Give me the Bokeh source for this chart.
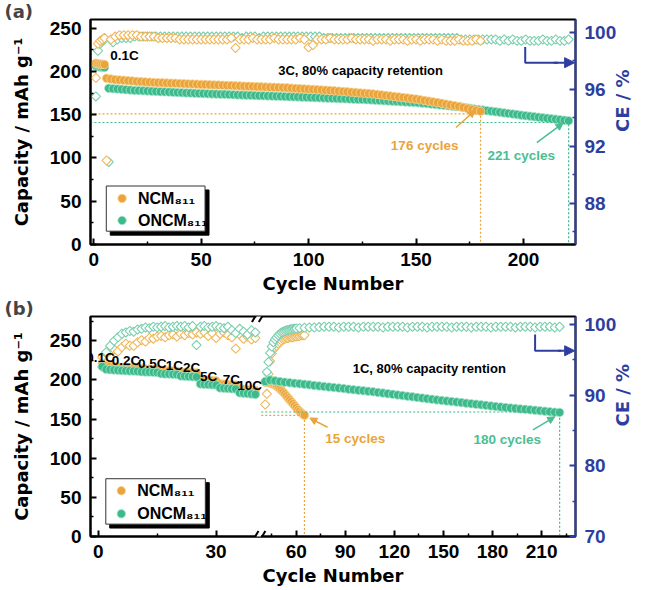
import math
from bokeh.plotting import figure
from bokeh.models import Range1d, LinearAxis, FixedTicker, Arrow, NormalHead, BoxAnnotation
from bokeh.layouts import column
from bokeh.embed import file_html
from bokeh.resources import INLINE
from bokeh.core.properties import value

FONT = "Liberation Sans"
TFONT = "DejaVu Sans"
ORANGE = "#EBA43B"
ORANGE_EDGE = "#F9D797"
ORANGE_DIA = "#F0B75A"
GREEN = "#3DBA8C"
GREEN_EDGE = "#AEE6CF"
GREEN_DIA = "#7ACFAE"
ORANGE_TXT = "#E9A43C"
GREEN_TXT = "#4BBE92"
BLUE = "#2E3E9E"

series_names = ["NCM₈₁₁", "ONCM₈₁₁"]

# ================= Panel (a) data =================
a_form_cycles = [1, 2, 3, 4, 5]
a_ncm_form_cap = [209.5, 208.8, 208.5, 208.3, 208.0]
a_oncm_form_cap = [206.0, 205.3, 205.0, 204.8, 204.5]
a_ncm_form_ce = [96.8, 99.2, 99.4, 99.5, 99.6]
a_oncm_form_ce = [95.5, 98.7, 99.2, 99.4, 99.5]

a_ncm_cycles = list(range(6, 181, 2))
a_ncm_cap = [
    192.0, 191.2, 190.5, 190.1, 189.7, 189.3, 188.9, 188.5, 188.2, 187.9,
    187.6, 187.3, 187.0, 186.8, 186.6, 186.4, 186.2, 186.0, 185.8, 185.6,
    185.4, 185.2, 185.0, 184.8, 184.6, 184.4, 184.2, 184.0, 183.8, 183.6,
    183.4, 183.2, 183.0, 182.8, 182.6, 182.4, 182.2, 182.0, 181.8, 181.6,
    181.4, 181.2, 181.0, 180.7, 180.4, 180.1, 179.8, 179.5, 179.2, 178.9,
    178.6, 178.3, 178.0, 177.6, 177.2, 176.8, 176.4, 176.0, 175.6, 175.2,
    174.8, 174.4, 174.0, 173.4, 172.8, 172.2, 171.6, 171.0, 170.4, 169.8,
    169.2, 168.6, 168.0, 167.2, 166.4, 165.6, 164.8, 164.0, 163.1, 162.2,
    161.3, 160.4, 159.5, 158.4, 157.3, 156.2, 155.1, 154.0]
a_ncm_ce = [
    91.0, 99.5, 99.7, 99.8, 99.8, 99.8, 99.8, 99.8, 99.7, 99.7,
    99.7, 99.7, 99.6, 99.6, 99.6, 99.6, 99.6, 99.5, 99.5, 99.5,
    99.5, 99.5, 99.5, 99.5, 99.5, 99.5, 99.5, 99.5, 99.5, 99.6,
    98.9, 99.5, 99.5, 99.5, 99.6, 99.5, 99.5, 99.5, 99.5, 99.6,
    99.5, 99.5, 99.5, 99.5, 99.5, 99.6, 99.5, 98.95, 99.1, 99.5,
    99.5, 99.5, 99.6, 99.5, 99.5, 99.5, 99.5, 99.6, 99.5, 99.5,
    99.5, 99.5, 99.4, 99.5, 99.5, 99.5, 99.4, 99.5, 99.5, 99.5,
    99.4, 99.5, 99.5, 99.4, 99.5, 99.5, 99.5, 99.4, 99.5, 99.4,
    99.4, 99.4, 99.5, 99.4, 99.4, 99.4, 99.5, 99.4]

a_oncm_cycles = list(range(7, 222, 2))
a_oncm_cap = [
    180.5, 180.1, 179.7, 179.3, 178.9, 178.5, 178.1, 177.9, 177.6, 177.4,
    177.1, 176.9, 176.6, 176.4, 176.2, 175.9, 175.7, 175.5, 175.2, 175.0,
    174.8, 174.6, 174.4, 174.2, 174.0, 173.8, 173.6, 173.5, 173.3, 173.1,
    172.9, 172.7, 172.6, 172.4, 172.2, 172.0, 171.9, 171.7, 171.5, 171.3,
    171.2, 171.0, 170.8, 170.6, 170.5, 170.3, 170.1, 169.9, 169.7, 169.5,
    169.3, 169.1, 168.9, 168.7, 168.5, 168.3, 168.1, 167.9, 167.7, 167.5,
    167.3, 167.1, 166.8, 166.5, 166.2, 165.9, 165.6, 165.3, 165.0, 164.7,
    164.4, 164.1, 163.8, 163.3, 162.8, 162.3, 161.8, 161.3, 160.8, 160.3,
    159.8, 159.3, 158.8, 158.1, 157.4, 156.7, 156.0, 155.3, 154.7, 154.1,
    153.4, 152.8, 152.1, 151.5, 150.8, 150.2, 149.5, 148.9, 148.3, 147.7,
    147.1, 146.5, 145.9, 145.3, 144.8, 144.2, 143.6, 143.0]
a_oncm_ce = [
    90.9, 99.3, 99.5, 99.6, 99.6, 99.6, 99.7, 99.7, 99.7, 99.7,
    99.7, 99.7, 99.7, 99.7, 99.7, 99.7, 99.7, 99.7, 99.7, 99.7,
    99.7, 99.7, 99.7, 99.7, 99.7, 99.7, 99.7, 99.7, 99.7, 99.7,
    99.7, 99.6, 99.7, 99.7, 99.7, 99.6, 99.7, 99.7, 99.7, 99.7,
    99.7, 99.7, 99.7, 99.7, 99.7, 99.7, 99.7, 99.7, 99.7, 99.7,
    99.6, 99.6, 99.6, 99.6, 99.6, 99.6, 99.6, 99.6, 99.6, 99.6,
    99.6, 99.6, 99.6, 99.6, 99.6, 99.6, 99.6, 99.6, 99.6, 99.6,
    99.6, 99.6, 99.6, 99.6, 99.6, 99.6, 99.6, 99.6, 99.6, 99.6,
    99.6, 99.6, 99.5, 99.5, 99.5, 99.5, 99.5, 99.5, 99.5, 99.5,
    99.5, 99.4, 99.5, 99.4, 99.5, 99.4, 99.4, 99.5, 99.4, 99.4,
    99.4, 99.5, 99.4, 99.4, 99.5, 99.4, 99.4, 99.5]

a_retention_cycles = [180, 221]
a_retention_caps = [151, 141]

# ================= Panel (b) data =================
b_rates = ["0.1C", "0.2C", "0.5C", "1C", "2C", "5C", "7C", "10C"]
b_rate_cycles = list(range(1, 41))
b_ncm_rate_cap = [
    220.5, 218.0, 217.5, 217.0, 216.8, 216.0, 215.8, 215.5, 215.3, 215.0,
    214.3, 214.0, 213.8, 213.5, 213.3, 212.2, 212.0, 211.7, 211.5, 211.2,
    210.0, 209.7, 209.5, 209.2, 209.0, 200.5, 200.0, 199.6, 199.2, 198.8,
    195.0, 194.6, 194.2, 193.8, 193.4, 188.5, 188.0, 187.5, 187.0, 186.5]
b_oncm_rate_cap = [
    217.0, 213.5, 213.0, 212.7, 212.4, 211.9, 211.7, 211.5, 211.3, 211.1,
    210.4, 210.2, 210.0, 209.8, 209.6, 208.0, 207.7, 207.5, 207.2, 207.0,
    205.0, 204.7, 204.4, 204.1, 203.8, 194.8, 194.4, 194.1, 193.7, 193.4,
    189.8, 189.4, 189.0, 188.6, 188.3, 183.5, 183.0, 182.5, 182.0, 181.5]
b_ncm_rate_ce = [
    95.4, 95.9, 96.3, 96.5, 96.2, 96.8, 97.3, 97.0, 97.0, 97.5,
    97.8, 97.6, 98.1, 98.0, 98.3, 98.4, 98.2, 98.5, 98.6, 98.3,
    98.7, 98.5, 98.8, 98.6, 98.9, 98.7, 98.9, 98.4, 98.8, 98.1,
    98.7, 98.9, 98.5, 98.2, 96.6, 98.6, 98.0, 98.3, 97.9, 98.1]
b_oncm_rate_ce = [
    94.0, 96.1, 97.0, 97.7, 98.2, 98.7, 98.9, 99.1, 99.0, 99.3,
    99.4, 99.6, 99.5, 99.7, 99.6, 99.7, 99.8, 99.6, 99.7, 99.8,
    99.7, 99.8, 99.6, 99.8, 97.1, 99.7, 99.8, 99.6, 99.7, 99.8,
    99.6, 99.5, 99.7, 99.2, 98.8, 99.4, 99.0, 98.6, 99.2, 98.9]

b_ncm_long_cycles = list(range(41, 66))
b_ncm_long_cap = [
    197.0, 197.0, 196.5, 196.0, 195.5, 194.5, 193.5, 192.0, 190.5, 188.5,
    186.5, 184.5, 182.0, 179.5, 177.0, 174.5, 172.0, 169.5, 167.0, 164.5,
    162.0, 160.0, 158.0, 156.3, 154.8]
b_ncm_long_ce = [
    88.7, 90.2, 93.0, 94.8, 95.9, 96.5, 96.8, 97.0, 97.3, 97.5,
    97.7, 97.9, 98.0, 98.1, 98.1, 98.2, 98.2, 98.2, 98.3, 98.3,
    98.4, 98.4, 98.5, 98.5, 98.5]

b_oncm_long_cycles = list(range(41, 222, 3))
b_oncm_long_cap = [
    198.0, 199.8, 198.8, 197.9, 197.1, 196.4, 195.7, 195.1, 194.4, 193.7,
    193.0, 192.3, 191.6, 190.9, 190.3, 189.6, 188.9, 188.2, 187.5, 186.9,
    186.2, 185.5, 184.8, 184.0, 183.2, 182.4, 181.6, 180.8, 180.0, 179.2,
    178.4, 177.6, 176.8, 176.0, 175.2, 174.5, 173.8, 173.1, 172.4, 171.7,
    171.0, 170.3, 169.6, 168.9, 168.2, 167.5, 166.8, 166.1, 165.4, 164.8,
    164.2, 163.6, 163.0, 162.4, 161.8, 161.2, 160.6, 160.0, 159.4, 158.8,
    158.5]
b_oncm_ce_cycles = list(range(41, 61)) + list(range(62, 222, 3))
b_oncm_long_ce = [
    91.9, 93.3, 94.7, 96.0, 96.9, 97.5, 97.9, 98.2, 98.5, 98.7,
    98.9, 99.0, 99.1, 99.2, 99.25, 99.3, 99.35, 99.4, 99.4, 99.45,
    99.5, 99.55, 99.6, 99.6, 99.65, 99.7,
    99.7, 99.7, 99.6, 99.7, 99.7, 99.7, 99.6, 99.7, 99.7, 99.7,
    99.7, 99.6, 99.7, 99.7, 99.7, 99.7, 99.6, 99.7, 99.7, 99.7,
    99.6, 99.7, 99.7, 99.7, 99.7, 99.6, 99.7, 99.7, 99.7, 99.6,
    99.7, 99.7, 99.7, 99.6, 99.7, 99.7, 99.7, 99.7, 99.6, 99.7,
    99.7, 99.7, 99.6, 99.7, 99.7, 99.7, 99.6, 99.7]

b_retention_cycles = [65, 221]
b_retention_caps = [154.8, 159.0]


# ================= helpers =================
def style_axis(ax, color="black"):
    ax.axis_line_width = 2
    ax.axis_line_color = color
    ax.major_tick_in = 6
    ax.major_tick_out = 0
    ax.minor_tick_in = 3
    ax.minor_tick_out = 0
    ax.major_tick_line_width = 2
    ax.minor_tick_line_width = 1.5
    ax.major_tick_line_color = color
    ax.minor_tick_line_color = color
    ax.major_label_text_color = color
    ax.major_label_text_font = FONT
    ax.major_label_text_font_size = "19px"
    ax.major_label_text_font_style = "bold"
    ax.axis_label_text_font = TFONT
    ax.axis_label_text_font_size = "18px"
    ax.axis_label_text_font_style = "bold"
    ax.axis_label_text_color = color


def txt(p, x, y, s, color, size, align="center", xr="default", yr="default"):
    p.text(x=[x], y=[y], text=[s], text_font=value(FONT), text_font_size=value(size),
           text_font_style="bold", text_color=color, text_align=align,
           text_baseline="middle", x_range_name=xr, y_range_name=yr)


def circles(p, x, y, fill, edge, xr="default"):
    p.scatter(x=x, y=y, marker="circle", size=8.5, fill_color=fill, line_color=edge,
              line_width=0.8, x_range_name=xr)


def diamonds(p, x, y, color, xr="default"):
    p.scatter(x=x, y=y, marker="square", angle=math.pi / 4, size=6.5, fill_color="white",
              line_color=color, line_width=1.1, x_range_name=xr, y_range_name="ce")


def legend(p, x0, x1, y0, y1, dx, dy, mx, tx, yn, yo, xr="default"):
    p.quad(left=[x0 + dx], right=[x1 + dx], bottom=[y0 - dy], top=[y1 - dy],
           fill_color="black", line_color="black", x_range_name=xr)
    p.quad(left=[x0], right=[x1], bottom=[y0], top=[y1], fill_color="white",
           line_color="#333333", line_width=1, x_range_name=xr)
    circles(p, [mx], [yn], ORANGE, ORANGE_EDGE, xr)
    circles(p, [mx], [yo], GREEN, GREEN_EDGE, xr)
    txt(p, tx, yn, series_names[0], "black", "16px", align="left", xr=xr)
    txt(p, tx, yo, series_names[1], "black", "16px", align="left", xr=xr)


def base_figure(height, xr, yr, top, bottom, tag, tag_standoff):
    p = figure(width=646, height=height, x_range=xr, y_range=yr, output_backend="svg",
               toolbar_location=None, min_border_left=90, min_border_right=65,
               min_border_top=top, min_border_bottom=bottom)
    p.grid.visible = False
    p.outline_line_color = "black"
    p.outline_line_width = 2
    p.outline_line_alpha = 1
    p.title.text = tag
    p.title.align = "left"
    p.title.offset = -86
    p.title.standoff = tag_standoff
    p.title.text_font = TFONT
    p.title.text_font_size = "18px"
    p.title.text_font_style = "bold"
    return p


def style_main_axes(p, yticks, yminor):
    y = p.yaxis[0]
    style_axis(y)
    y.ticker = FixedTicker(ticks=yticks, minor_ticks=yminor)
    y.axis_label = "Capacity / mAh g⁻¹"
    y.major_label_standoff = 9
    y.axis_label_standoff = 15
    x = p.xaxis[0]
    style_axis(x)
    x.axis_label = "Cycle Number"
    x.major_label_standoff = 8
    x.axis_label_standoff = 4


def ce_axis(p, ticks, minor):
    r = LinearAxis(y_range_name="ce", ticker=FixedTicker(ticks=ticks, minor_ticks=minor))
    style_axis(r, BLUE)
    r.major_label_standoff = 9
    r.axis_label = "CE / %"
    r.axis_label_standoff = 3
    r.axis_label_orientation = math.pi / 2
    p.add_layout(r, "right")


# ================= Panel (a) =================
pa = base_figure(298, Range1d(-1.5, 224.2), Range1d(0, 260), 19, 54, "(a)", -4)
pa.extra_y_ranges = {"ce": Range1d(85.1, 100.9)}
style_main_axes(pa, [0, 50, 100, 150, 200, 250], [25, 75, 125, 175, 225])
pa.xaxis[0].ticker = FixedTicker(ticks=[0, 50, 100, 150, 200], minor_ticks=[25, 75, 125, 175])
ce_axis(pa, [88, 92, 96, 100], [86, 90, 94, 98])

diamonds(pa, a_form_cycles, a_oncm_form_ce, GREEN_DIA)
diamonds(pa, a_oncm_cycles, a_oncm_ce, GREEN_DIA)
diamonds(pa, a_form_cycles, a_ncm_form_ce, ORANGE_DIA)
diamonds(pa, a_ncm_cycles, a_ncm_ce, ORANGE_DIA)
circles(pa, a_form_cycles, a_oncm_form_cap, GREEN, GREEN_EDGE)
circles(pa, a_oncm_cycles, a_oncm_cap, GREEN, GREEN_EDGE)
circles(pa, a_form_cycles, a_ncm_form_cap, ORANGE, ORANGE_EDGE)
circles(pa, a_ncm_cycles, a_ncm_cap, ORANGE, ORANGE_EDGE)

x0a = pa.x_range.start
for c, cap, col in zip(a_retention_cycles, a_retention_caps, [ORANGE, GREEN]):
    pa.line(x=[x0a, c, c], y=[cap, cap, 0], line_color=col, line_dash="2 2", line_width=1.2)

txt(pa, 7.7, 218, "0.1C", "black", "13.5px", align="left")
txt(pa, 124.2, 201.6, "3C, 80% capacity retention", "black", "13px")
txt(pa, 154, 114.7, "176 cycles", ORANGE_TXT, "13.5px")
txt(pa, 199, 103, "221 cycles", GREEN_TXT, "13.5px")
pa.add_layout(Arrow(end=NormalHead(size=7, fill_color=ORANGE_TXT, line_color=ORANGE_TXT),
                    x_start=168.6, y_start=135.2, x_end=177.5, y_end=155.0,
                    line_color=ORANGE_TXT, line_width=1.5))
pa.add_layout(Arrow(end=NormalHead(size=7, fill_color=GREEN_TXT, line_color=GREEN_TXT),
                    x_start=206.2, y_start=117.8, x_end=218.4, y_end=140.2,
                    line_color=GREEN_TXT, line_width=1.5))
pa.line(x=[200.8, 200.8, 216.0], y=[98.97, 97.87, 97.87], y_range_name="ce", line_color=BLUE, line_width=2)
pa.add_layout(Arrow(end=NormalHead(size=10, fill_color=BLUE, line_color=BLUE),
                    x_start=214.0, y_start=97.87, x_end=223.8, y_end=97.87, y_range_name="ce",
                    line_color=BLUE, line_width=2))

legend(pa, 5.85, 51.8, 15.4, 67.6, 1.85, 4.6, 13.2, 20.6, 53.3, 27.8)

# ================= Panel (b) =================
BX0, BX1 = -65.8, 230.7
pb = base_figure(291, Range1d(BX0, BX1), Range1d(0, 281), 15, 53, "(b)", -5)
# rate-test segment shares the frame with its own, expanded cycle scale (broken axis)
pb.extra_x_ranges = {"rate": Range1d((BX0 + 61) / 2.4, (BX1 + 61) / 2.4)}
pb.extra_y_ranges = {"ce": Range1d(70, 101.15)}
style_main_axes(pb, [0, 50, 100, 150, 200, 250], [25, 75, 125, 175, 225, 275])
pb.xaxis[0].ticker = FixedTicker(ticks=[-61, 11, 60, 90, 120, 150, 180, 210],
                                 minor_ticks=[-25, 45, 75, 105, 135, 165, 195, 225])
pb.xaxis[0].major_label_overrides = {-61: "0", 11: "30"}
ce_axis(pb, [70, 80, 90, 100], [75, 85, 95])

diamonds(pb, b_rate_cycles, b_ncm_rate_ce, ORANGE_DIA, xr="rate")
diamonds(pb, b_ncm_long_cycles, b_ncm_long_ce, ORANGE_DIA)
diamonds(pb, b_rate_cycles, b_oncm_rate_ce, GREEN_DIA, xr="rate")
diamonds(pb, b_oncm_ce_cycles, b_oncm_long_ce, GREEN_DIA)
circles(pb, b_rate_cycles, b_ncm_rate_cap, ORANGE, ORANGE_EDGE, xr="rate")
circles(pb, b_ncm_long_cycles, b_ncm_long_cap, ORANGE, ORANGE_EDGE)
circles(pb, b_rate_cycles, b_oncm_rate_cap, GREEN, GREEN_EDGE, xr="rate")
circles(pb, b_oncm_long_cycles, b_oncm_long_cap, GREEN, GREEN_EDGE)

BREAK_X = 37.0
for c, cap, col in zip(b_retention_cycles, b_retention_caps, [ORANGE, GREEN]):
    pb.line(x=[BREAK_X + 1.6, c, c], y=[cap, cap, 0], line_color=col, line_dash="2 2", line_width=1.2)

rate_label_x = [0.55, 7.05, 13.75, 19.35, 23.75, 28.1, 33.9, 38.55]
rate_label_y = [228.5, 225.4, 221.3, 218.6, 215.4, 204.0, 201.0, 193.0]
for lx, ly, s in zip(rate_label_x, rate_label_y, b_rates):
    txt(pb, lx, ly, s, "black", "13.5px", xr="rate")

txt(pb, 141.3, 214, "1C, 80% capacity rention", "black", "13px")
txt(pb, 96, 125.8, "15 cycles", ORANGE_TXT, "13.5px")
txt(pb, 189, 123.3, "180 cycles", GREEN_TXT, "13.5px")
pb.add_layout(Arrow(end=NormalHead(size=7, fill_color=ORANGE_TXT, line_color=ORANGE_TXT),
                    x_start=79.1, y_start=139.5, x_end=68.3, y_end=151.3,
                    line_color=ORANGE_TXT, line_width=1.5))
pb.add_layout(Arrow(end=NormalHead(size=7, fill_color=GREEN_TXT, line_color=GREEN_TXT),
                    x_start=204.7, y_start=136.1, x_end=218.0, y_end=152.8,
                    line_color=GREEN_TXT, line_width=1.5))
pb.line(x=[206.0, 206.0, 222.0], y=[98.6, 96.3, 96.3], y_range_name="ce", line_color=BLUE, line_width=2)
pb.add_layout(Arrow(end=NormalHead(size=10, fill_color=BLUE, line_color=BLUE),
                    x_start=220.0, y_start=96.3, x_end=230.2, y_end=96.3, y_range_name="ce",
                    line_color=BLUE, line_width=2))

legend(pb, 1.9, 27.25, 15.8, 73.8, 1.0, 5.0, 5.85, 9.9, 58.5, 29.0, xr="rate")

# axis break marks
for y0 in (0, 281):
    pb.add_layout(BoxAnnotation(left=BREAK_X - 1.4, right=BREAK_X + 1.4, bottom=y0 - 4, top=y0 + 4,
                                fill_color="white", fill_alpha=1, line_alpha=0, level="overlay"))
    for xc in (BREAK_X - 2.1, BREAK_X + 2.1):
        pb.add_layout(Arrow(end=None, x_start=xc - 2.0, y_start=y0 - 7, x_end=xc + 2.0, y_end=y0 + 7,
                            line_color="black", line_width=2, level="overlay"))

layout = column(pa, pb)
open("out.html", "w").write(file_html(layout, INLINE))
